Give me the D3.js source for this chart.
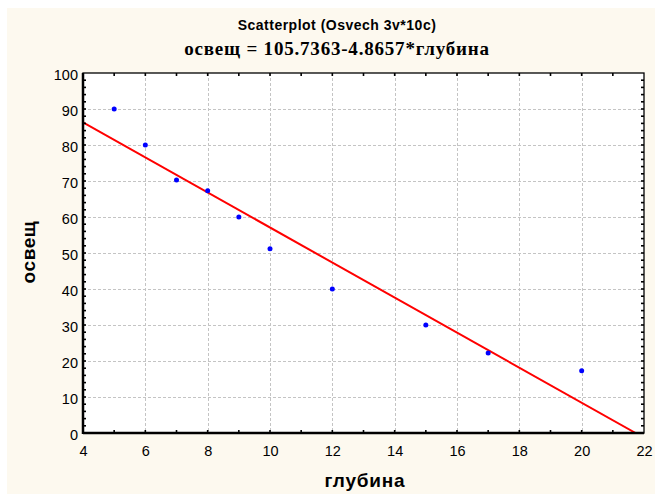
<!DOCTYPE html>
<html>
<head>
<meta charset="utf-8">
<script src="https://cdn.jsdelivr.net/npm/d3@7"></script>
<style>
  html, body { margin: 0; padding: 0; background: #ffffff; }
  svg { display: block; }
</style>
</head>
<body>
<svg id="chart" width="655" height="494"></svg>
<script>
// Observations: depth (глубина) and illumination (освещ)
const depth = [5, 6, 7, 8, 9, 10, 12, 15, 17, 20];
const light = [90, 80, 70.3, 67.3, 60, 51.2, 40, 30, 22.2, 17.3];

// Fitted regression line: освещ = 105.7363 - 4.8657 * глубина
const intercept = 105.7363;
const slope = -4.8657;

const xTicks = [4, 6, 8, 10, 12, 14, 16, 18, 20, 22];
const yTicks = [0, 10, 20, 30, 40, 50, 60, 70, 80, 90, 100];

const svg = d3.select("#chart");
const W = 655, H = 494;
const m = { left: 83, right: 644, top: 73, bottom: 433 };

// Page background
svg.append("rect").attr("x", 7).attr("y", 8).attr("width", W - 7).attr("height", H - 8)
  .attr("fill", "#fdf9ef");

const x = d3.scaleLinear().domain([4, 22]).range([m.left, m.right]);
const y = d3.scaleLinear().domain([0, 100]).range([m.bottom, m.top]);

// Plot area
svg.append("rect").attr("x", m.left).attr("y", m.top)
  .attr("width", m.right - m.left).attr("height", m.bottom - m.top)
  .attr("fill", "#ffffff");

// Dashed grid
const grid = svg.append("g").attr("stroke", "#c4c4c4").attr("stroke-width", 1)
  .attr("stroke-dasharray", "3,2").attr("shape-rendering", "crispEdges");
grid.selectAll(".gx").data(xTicks.slice(1, -1)).join("line")
  .attr("x1", d => Math.round(x(d)) + 0.5).attr("x2", d => Math.round(x(d)) + 0.5)
  .attr("y1", m.top).attr("y2", m.bottom);
grid.selectAll(".gy").data(yTicks.slice(1, -1)).join("line")
  .attr("y1", d => Math.round(y(d)) + 0.5).attr("y2", d => Math.round(y(d)) + 0.5)
  .attr("x1", m.left).attr("x2", m.right);

// Clip for the fitted line
svg.append("clipPath").attr("id", "plotclip").append("rect")
  .attr("x", m.left).attr("y", m.top)
  .attr("width", m.right - m.left).attr("height", m.bottom - m.top);

const x0 = x.domain()[0];
const xEnd = -intercept / slope;
svg.append("line")
  .attr("clip-path", "url(#plotclip)")
  .attr("x1", x(x0)).attr("y1", y(intercept + slope * x0))
  .attr("x2", x(xEnd)).attr("y2", y(0))
  .attr("stroke", "#ff0000").attr("stroke-width", 2);

// Points
svg.append("g").selectAll("circle").data(depth.map((d, i) => [d, light[i]])).join("circle")
  .attr("cx", d => x(d[0])).attr("cy", d => y(d[1])).attr("r", 2.5)
  .attr("fill", "#0000ff");

// Axes: labels outside, minor ticks drawn separately
const fontAxis = "Arial, 'Liberation Sans', sans-serif";
const xAxis = d3.axisBottom(x).tickValues(xTicks).tickSize(0).tickPadding(13).tickFormat(d3.format("d"));
const yAxis = d3.axisLeft(y).tickValues(yTicks).tickSize(0).tickPadding(5).tickFormat(d3.format("d"));

const gx = svg.append("g").attr("transform", `translate(0,${m.bottom})`).call(xAxis);
const gy = svg.append("g").attr("transform", `translate(${m.left},0)`).call(yAxis);
[gx, gy].forEach(g => {
  g.select(".domain").remove();
  g.selectAll("text").attr("font-family", fontAxis).attr("font-size", 14.5).attr("fill", "#000");
});
gy.selectAll("text").attr("dy", "0.42em");

// Minor ticks on all four sides, pointing inward
const xMinor = d3.range(5, 22, 1);
const yMinor = d3.range(2, 100, 2);
const ticks = svg.append("g").attr("stroke", "#000").attr("stroke-width", 1.6);
ticks.selectAll(".tb").data(xMinor).join("line")
  .attr("x1", d => x(d)).attr("x2", d => x(d)).attr("y1", m.bottom).attr("y2", m.bottom - 3);
ticks.selectAll(".tt").data(xMinor).join("line")
  .attr("x1", d => x(d)).attr("x2", d => x(d)).attr("y1", m.top).attr("y2", m.top + 3);
ticks.selectAll(".tl").data(yMinor).join("line")
  .attr("y1", d => y(d)).attr("y2", d => y(d)).attr("x1", m.left).attr("x2", m.left + 3);
ticks.selectAll(".tr").data(yMinor).join("line")
  .attr("y1", d => y(d)).attr("y2", d => y(d)).attr("x1", m.right).attr("x2", m.right - 3);

// Frame
svg.append("rect").attr("x", m.left).attr("y", m.top)
  .attr("width", m.right - m.left).attr("height", m.bottom - m.top)
  .attr("fill", "none").attr("stroke", "#000").attr("stroke-width", 1.3);
svg.append("line").attr("x1", m.left).attr("x2", m.left).attr("y1", m.top).attr("y2", m.bottom + 1)
  .attr("stroke", "#000").attr("stroke-width", 2.5);
svg.append("line").attr("x1", m.left).attr("x2", m.right).attr("y1", m.bottom).attr("y2", m.bottom)
  .attr("stroke", "#000").attr("stroke-width", 2.5);

// Titles
const cx = 337;
svg.append("text").attr("x", cx).attr("y", 30).attr("text-anchor", "middle")
  .attr("font-family", fontAxis).attr("font-weight", "bold").attr("font-size", 14)
  .attr("letter-spacing", "0.5px")
  .text("Scatterplot (Osvech 3v*10c)");
svg.append("text").attr("x", cx).attr("y", 55).attr("text-anchor", "middle")
  .attr("font-family", "'Times New Roman', 'Liberation Serif', serif").attr("font-weight", "bold")
  .attr("font-size", 19).attr("letter-spacing", "0.8px")
  .text(`освещ = ${intercept.toFixed(4)}${slope.toFixed(4)}*глубина`);

// Axis titles
svg.append("text").attr("x", 365).attr("y", 487).attr("text-anchor", "middle")
  .attr("font-family", fontAxis).attr("font-weight", "bold").attr("font-size", 19)
  .attr("letter-spacing", "0.8px")
  .text("глубина");
svg.append("text").attr("transform", "translate(35,252) rotate(-90)").attr("text-anchor", "middle")
  .attr("font-family", fontAxis).attr("font-weight", "bold").attr("font-size", 19)
  .attr("letter-spacing", "0.6px")
  .text("освещ");
</script>
</body>
</html>
